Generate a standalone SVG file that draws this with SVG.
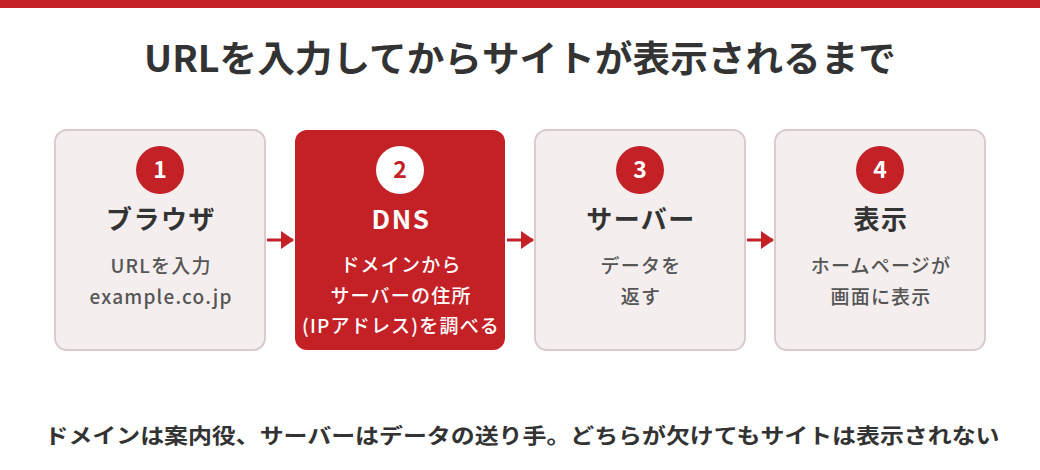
<svg xmlns="http://www.w3.org/2000/svg" width="1040" height="470" viewBox="0 0 1040 470">
<defs>
<style>
text{font-family:"Noto Sans CJK JP","Noto Sans",sans-serif;text-anchor:middle}
.box{fill:#f4eeee;stroke:#dccbcb;stroke-width:2}
.hl{fill:#c42126}
.num{font-size:23px;font-weight:700;fill:#fff}
.h{font-size:26px;font-weight:700;fill:#333;letter-spacing:1.5px}
.s{font-size:19px;font-weight:500;fill:#555;letter-spacing:1.2px}
.conn line{stroke:#c42126;stroke-width:3}
</style>
<marker id="ah" viewBox="0 0 13 18" refX="12" refY="9" markerWidth="13" markerHeight="18" orient="auto" markerUnits="userSpaceOnUse">
<path d="M0,0L13,9L0,18z" fill="#c42126"/>
</marker>
</defs>
<rect x="0" y="0" width="1040" height="8" fill="#c42126"/>
<text x="520" y="72" font-size="36" font-weight="700" fill="#333" textLength="752" lengthAdjust="spacingAndGlyphs">URLを入力してからサイトが表示されるまで</text>
<g id="n1">
<rect class="box" x="55" y="130" width="210" height="220" rx="12"/>
<circle cx="160" cy="170" r="24" fill="#c42126"/>
<text class="num" x="160" y="178">1</text>
<text class="h" x="161" y="229">ブラウザ</text>
<text class="s" x="161" y="273">URLを入力</text>
<text class="s" x="161" y="304">example.co.jp</text>
</g>
<g id="n2">
<rect class="hl" x="295" y="130" width="210" height="220" rx="12"/>
<circle cx="400" cy="170" r="24" fill="#fff"/>
<text class="num" x="400" y="178" style="fill:#c42126">2</text>
<text class="h" x="401" y="229" style="fill:#fff">DNS</text>
<text class="s" x="401" y="272" style="fill:#fff">ドメインから</text>
<text class="s" x="401" y="303" style="fill:#fff">サーバーの住所</text>
<text class="s" x="401" y="333" style="fill:#fff">(IPアドレス)を調べる</text>
</g>
<g id="n3">
<rect class="box" x="535" y="130" width="210" height="220" rx="12"/>
<circle cx="640" cy="170" r="24" fill="#c42126"/>
<text class="num" x="640" y="178">3</text>
<text class="h" x="641" y="229">サーバー</text>
<text class="s" x="641" y="273">データを</text>
<text class="s" x="641" y="304">返す</text>
</g>
<g id="n4">
<rect class="box" x="775" y="130" width="210" height="220" rx="12"/>
<circle cx="880" cy="170" r="24" fill="#c42126"/>
<text class="num" x="880" y="178">4</text>
<text class="h" x="881" y="229">表示</text>
<text class="s" x="881" y="273">ホームページが</text>
<text class="s" x="881" y="304">画面に表示</text>
</g>
<g id="connectors" class="conn">
<line x1="267" y1="240" x2="293" y2="240" marker-end="url(#ah)"/>
<line x1="507" y1="240" x2="533" y2="240" marker-end="url(#ah)"/>
<line x1="747" y1="240" x2="773" y2="240" marker-end="url(#ah)"/>
</g>
<text x="522" y="443" font-size="21" font-weight="700" fill="#333" textLength="955" lengthAdjust="spacingAndGlyphs">ドメインは案内役、サーバーはデータの送り手。どちらが欠けてもサイトは表示されない</text>
</svg>
